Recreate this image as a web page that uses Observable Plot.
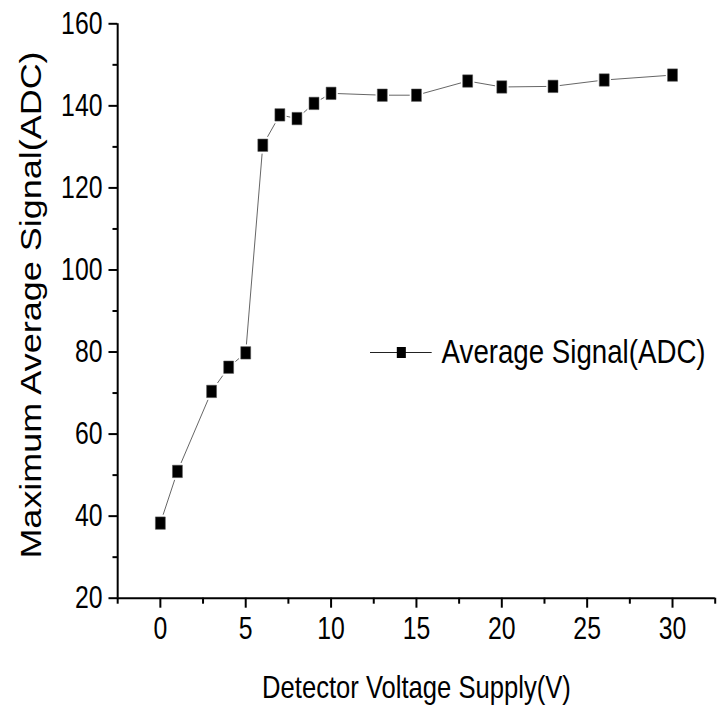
<!DOCTYPE html>
<html>
<head>
<meta charset="utf-8">
<script src="https://cdn.jsdelivr.net/npm/d3@7"></script>
<script src="https://cdn.jsdelivr.net/npm/@observablehq/plot@0.6"></script>
<style>
  html, body { margin: 0; padding: 0; background: white; overflow: hidden; }
  #wrap { width: 718px; height: 706px; overflow: hidden; }
  #chart { width: 898px; transform: scaleX(0.8); transform-origin: 0 0; }
</style>
</head>
<body>
<div id="wrap"><div id="chart"></div></div>
<script>
// Data
const voltage = [0, 1, 3, 4, 5, 6, 7, 8, 9, 10, 13, 15, 18, 20, 23, 26, 30];
const signal = [38.3, 50.9, 70.4, 76.3, 79.8, 130.4, 137.8, 136.9, 140.6, 143.05, 142.6, 142.6, 146.05, 144.6, 144.75, 146.3, 147.5];
const xDomain = [-2.5, 32.5];
const yDomain = [20, 160];
const xMajor = [0, 5, 10, 15, 20, 25, 30];
const xMinor = [-2.5, 2.5, 7.5, 12.5, 17.5, 22.5, 27.5, 32.5];
const yMajor = [20, 40, 60, 80, 100, 120, 140, 160];
const yMinor = [30, 50, 70, 90, 110, 130, 150];
const xTitle = "Detector Voltage Supply(V)";
const yTitle = "Maximum Average Signal(ADC)";
const seriesName = "Average Signal(ADC)";

const data = voltage.map((v, i) => ({x: v, y: signal[i]}));

const plot = Plot.plot({
  width: 898,
  height: 706,
  marginLeft: 146.6,
  marginRight: 4.5,
  marginTop: 23.3,
  marginBottom: 108.3,
  x: {domain: xDomain},
  y: {domain: yDomain},
  style: {fontFamily: "'Liberation Sans', Arial, sans-serif", color: "black", background: "white"},
  marks: [
    Plot.axisY({ticks: yMinor, tickSize: 6, tickFormat: () => "", strokeWidth: 2, label: null}),
    Plot.axisY({ticks: yMajor, tickSize: 11, tickPadding: 8, fontSize: 31, strokeWidth: 2, label: null, tickFormat: d => String(d)}),
    Plot.axisX({ticks: xMinor, tickSize: 6, tickFormat: () => "", strokeWidth: 2.5, label: null}),
    Plot.axisX({ticks: xMajor, tickSize: 10, tickPadding: 9, fontSize: 31, strokeWidth: 2.5, label: null, tickFormat: d => String(d)}),
    Plot.ruleX([xDomain[0]], {stroke: "black", strokeWidth: 2.5}),
    Plot.ruleY([yDomain[0]], {stroke: "black", strokeWidth: 2}),
    Plot.line(data, {x: "x", y: "y", stroke: "#555", strokeWidth: 1}),
    Plot.dot(data, {x: "x", y: "y", symbol: "square", r: 9.5, fill: "white"}),
    Plot.dot(data, {x: "x", y: "y", symbol: "square", r: 7, fill: "black", stroke: "#555", strokeWidth: 0.6}),
    Plot.text([xTitle], {frameAnchor: "bottom", lineAnchor: "top", dy: 77, fontSize: 32, fill: "black"}),
    Plot.text([yTitle], {frameAnchor: "left", textAnchor: "middle", lineAnchor: "middle", rotate: -90, dx: -107, dy: -6, fontSize: 36, fill: "black"})
  ]
});

// Legend inside plot area
const svg = d3.select(plot);
const lg = svg.append("g");
lg.append("line").attr("x1", 462.5).attr("x2", 539.6).attr("y1", 352.5).attr("y2", 352.5)
  .attr("stroke", "#222").attr("stroke-width", 1.2);
lg.append("rect").attr("x", 496).attr("y", 347).attr("width", 11.3).attr("height", 11)
  .attr("fill", "black");
lg.append("text").attr("x", 552).attr("y", 363).attr("font-size", 33)
  .attr("text-anchor", "start")
  .attr("textLength", 330).attr("lengthAdjust", "spacingAndGlyphs")
  .attr("font-family", "'Liberation Sans', Arial, sans-serif").attr("fill", "black")
  .text(seriesName);

document.getElementById("chart").appendChild(plot);
</script>
</body>
</html>
